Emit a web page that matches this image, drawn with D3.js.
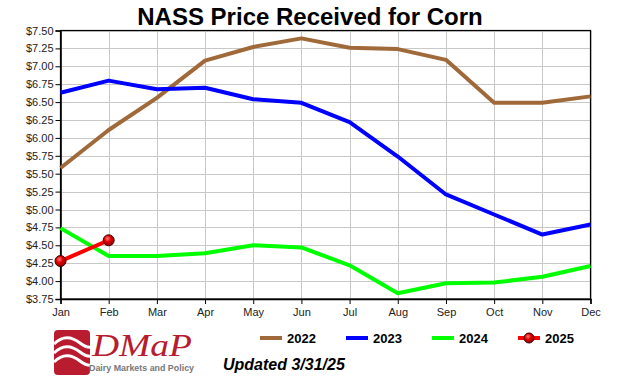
<!DOCTYPE html>
<html><head><meta charset="utf-8">
<script src="https://cdn.jsdelivr.net/npm/d3@7"></script>
<style>body{margin:0;background:#fff;}svg{display:block;font-family:Arial,"Liberation Sans",sans-serif;}</style>
</head><body>
<svg id="c" width="620" height="380"></svg>
<script>
const months = ["Jan","Feb","Mar","Apr","May","Jun","Jul","Aug","Sep","Oct","Nov","Dec"];
const yTicks = [3.75,4.00,4.25,4.50,4.75,5.00,5.25,5.50,5.75,6.00,6.25,6.50,6.75,7.00,7.25,7.50];
const v2022 = [5.58,6.11,6.56,7.08,7.27,7.39,7.26,7.24,7.09,6.49,6.49,6.58];
const v2023 = [6.63,6.80,6.68,6.70,6.54,6.49,6.22,5.74,5.21,4.93,4.65,4.79];
const v2024 = [4.74,4.35,4.35,4.39,4.50,4.47,4.22,3.83,3.97,3.98,4.06,4.21];
const v2025 = [4.28,4.57];
const seriesNames = ["2022","2023","2024","2025"];
const seriesColors = ["#a0693a","#0000ff","#00ff00","#ff0000"];

const svg = d3.select("#c");
const x = d3.scalePoint().domain(months).range([60.5, 590.5]);
const y = d3.scaleLinear().domain([3.75, 7.5]).range([299, 30.5]);

const defs = svg.append("defs");
const rg = defs.append("radialGradient").attr("id","mk").attr("cx","40%").attr("cy","35%").attr("r","65%");
rg.append("stop").attr("offset","0%").attr("stop-color","#ff8080");
rg.append("stop").attr("offset","45%").attr("stop-color","#e00000");
rg.append("stop").attr("offset","100%").attr("stop-color","#900000");

// title
svg.append("text").attr("x", 310).attr("y", 25).attr("text-anchor","middle")
  .attr("font-size", 24).attr("font-weight","bold").attr("fill","#000")
  .text("NASS Price Received for Corn");

// gridlines
const g = svg.append("g");
g.selectAll("line.h").data(yTicks).join("line")
  .attr("x1", 60.5).attr("x2", 590.5)
  .attr("y1", d => Math.round(y(d))+0.5).attr("y2", d => Math.round(y(d))+0.5)
  .attr("stroke","#c8c8c8").attr("stroke-width",1);
g.selectAll("line.v").data(months).join("line")
  .attr("x1", d => Math.round(x(d))+0.5).attr("x2", d => Math.round(x(d))+0.5)
  .attr("y1", 30.5).attr("y2", 299)
  .attr("stroke","#c8c8c8").attr("stroke-width",1);

// frame
svg.append("rect").attr("x",60.5).attr("y",30.5).attr("width",530).attr("height",268.5)
  .attr("fill","none").attr("stroke","#000").attr("stroke-width",1.2);

// axes
const yAxis = d3.axisLeft(y).tickValues(yTicks).tickSize(5).tickPadding(2)
  .tickFormat(d => "$" + d3.format(".2f")(d));
const ya = svg.append("g").attr("transform","translate(60.5,0)").call(yAxis);
ya.select(".domain").attr("stroke","#000").attr("stroke-width",1.5);
ya.selectAll("text").attr("font-size",11).attr("fill","#222").attr("font-family","Arial,'Liberation Sans',sans-serif");

const xAxis = d3.axisBottom(x).tickSize(5).tickPadding(4);
const xa = svg.append("g").attr("transform","translate(0,299)").call(xAxis);
xa.select(".domain").attr("stroke","#000").attr("stroke-width",1.5);
xa.selectAll("text").attr("font-size",11).attr("fill","#222").attr("font-family","Arial,'Liberation Sans',sans-serif");

// lines
const line = d3.line().x((d,i) => x(months[i])).y(d => y(d));
const allSeries = [v2022, v2023, v2024, v2025];
allSeries.forEach((s, k) => {
  svg.append("path").datum(s).attr("d", line).attr("fill","none")
    .attr("stroke", seriesColors[k]).attr("stroke-width", 4).attr("stroke-linejoin","round");
});
svg.selectAll("circle.m").data(v2025).join("circle")
  .attr("cx", (d,i) => x(months[i])).attr("cy", d => y(d)).attr("r", 5.5)
  .attr("fill","url(#mk)").attr("stroke","#400000").attr("stroke-width",1);

// legend
const legX = [260, 346, 432, 518];
seriesNames.forEach((n, k) => {
  const lg = svg.append("g").attr("transform", `translate(${legX[k]},338)`);
  lg.append("line").attr("x1",0).attr("x2",22).attr("y1",0).attr("y2",0)
    .attr("stroke", seriesColors[k]).attr("stroke-width",4);
  if (n === "2025") {
    lg.append("circle").attr("cx",11).attr("cy",0).attr("r",5)
      .attr("fill","url(#mk)").attr("stroke","#400000").attr("stroke-width",1);
  }
  lg.append("text").attr("x",27).attr("y",5).attr("font-size",13).attr("font-weight","bold")
    .attr("fill","#000").text(n);
});

svg.append("text").attr("x",223).attr("y",370).attr("font-size",16).attr("font-weight","bold")
  .attr("font-style","italic").attr("fill","#000").text("Updated 3/31/25");

// logo
const logo = svg.append("g");
logo.append("rect").attr("x",54).attr("y",330).attr("width",36).attr("height",45).attr("rx",4)
  .attr("fill","#b81c2e");
[0,1,2].forEach(i => {
  logo.append("path")
    .attr("d", `M54,${344+i*9} C62,${336+i*9} 71,${336+i*9} 80,${343+i*9} S94,${348+i*9} 100,${341+i*9}`)
    .attr("fill","none").attr("stroke","#fff").attr("stroke-width",3);
});
logo.append("text").attr("x",92).attr("y",356).attr("font-size",31)
  .attr("font-family","'Liberation Serif','DejaVu Serif',serif").attr("font-style","italic")
  .attr("textLength",100).attr("lengthAdjust","spacingAndGlyphs")
  .attr("fill","#b81c2e").text("DMaP");
logo.append("text").attr("x",89).attr("y",371).attr("font-size",9).attr("font-weight","bold")
  .attr("textLength",105).attr("lengthAdjust","spacingAndGlyphs")
  .attr("fill","#777").text("Dairy Markets and Policy");
</script>
</body></html>
